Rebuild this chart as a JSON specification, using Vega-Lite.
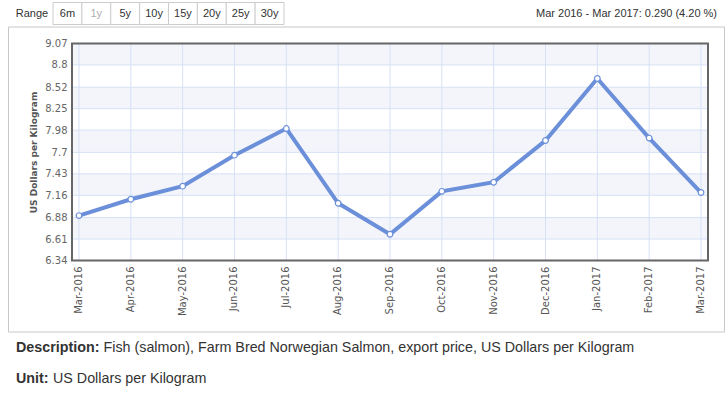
{
  "$schema": "https://vega.github.io/schema/vega-lite/v6.json",
  "padding": {"left": 7, "top": 1.5, "right": 0, "bottom": 0},
  "spacing": 0,
  "background": "white",
  "config": {"view": {"stroke": null}, "font": "Liberation Sans"},
  "datasets": {
    "buttons": [{"btn": "6m"}, {"btn": "1y"}, {"btn": "5y"}, {"btn": "10y"}, {"btn": "15y"}, {"btn": "20y"}, {"btn": "25y"}, {"btn": "30y"}],
    "series": [
      {"month": "Mar-2016", "value": 6.905},
      {"month": "Apr-2016", "value": 7.11},
      {"month": "May-2016", "value": 7.275},
      {"month": "Jun-2016", "value": 7.665},
      {"month": "Jul-2016", "value": 8.0},
      {"month": "Aug-2016", "value": 7.06},
      {"month": "Sep-2016", "value": 6.67},
      {"month": "Oct-2016", "value": 7.21},
      {"month": "Nov-2016", "value": 7.325},
      {"month": "Dec-2016", "value": 7.85},
      {"month": "Jan-2017", "value": 8.63},
      {"month": "Feb-2017", "value": 7.88},
      {"month": "Mar-2017", "value": 7.195}
    ],
    "bands": [{"lo": 8.8, "hi": 9.07}, {"lo": 8.25, "hi": 8.52}, {"lo": 7.7, "hi": 7.98}, {"lo": 7.16, "hi": 7.43}, {"lo": 6.61, "hi": 6.88}],
    "ticks": [{"v": 6.61}, {"v": 6.88}, {"v": 7.16}, {"v": 7.43}, {"v": 7.7}, {"v": 7.98}, {"v": 8.25}, {"v": 8.52}, {"v": 8.8}]
  },
  "vconcat": [
    {
      "width": 711,
      "height": 22,
      "layer": [
        {
          "data": {"name": "buttons"},
          "mark": {"type": "rect", "fill": "white", "stroke": "#cccccc", "strokeWidth": 1},
          "encoding": {
            "x": {"field": "btn", "type": "nominal", "sort": null, "scale": {"range": [45, 276], "paddingInner": 0, "paddingOuter": 0}, "axis": null}
          }
        },
        {
          "data": {"name": "buttons"},
          "mark": {"type": "text", "font": "Liberation Sans", "fontSize": 11, "baseline": "middle"},
          "encoding": {
            "x": {"field": "btn", "type": "nominal", "sort": null, "scale": {"range": [45, 276], "paddingInner": 0, "paddingOuter": 0}, "axis": null},
            "text": {"field": "btn"},
            "color": {"condition": {"test": "datum.btn === '1y'", "value": "#b0b0b0"}, "value": "#333333"}
          }
        },
        {
          "data": {"values": [{"label": "Range"}]},
          "mark": {"type": "text", "font": "Liberation Sans", "fontSize": 11, "baseline": "middle", "color": "#333333"},
          "encoding": {
            "x": {"field": "label", "type": "nominal", "scale": {"range": [8, 40]}, "axis": null},
            "text": {"field": "label"}
          }
        },
        {
          "data": {"values": [{"t": "Mar 2016 - Mar 2017: 0.290 (4.20 %)"}]},
          "mark": {"type": "text", "font": "Liberation Sans", "fontSize": 11, "align": "right", "baseline": "middle", "dx": -2, "color": "#333333"},
          "encoding": {"x": {"value": "width"}, "text": {"field": "t"}}
        }
      ],
      "resolve": {"scale": {"x": "independent"}}
    },
    {
      "width": 716,
      "height": 305,
      "view": {"stroke": "#c8c8c8", "strokeWidth": 1},
      "layer": [
        {
          "layer": [
            {
              "data": {"name": "bands"},
              "mark": {"type": "rect", "fill": "#f3f5fb"},
              "encoding": {
                "x": {"datum": 0, "type": "quantitative", "scale": {"domain": [0, 1], "range": [64, 700]}, "axis": null},
                "x2": {"datum": 1},
                "y": {"field": "lo", "type": "quantitative", "scale": {"domain": [6.34, 9.07], "range": [234, 17], "nice": false, "zero": false},
                  "axis": {"offset": -64, "values": [6.34, 6.61, 6.88, 7.16, 7.43, 7.7, 7.98, 8.25, 8.52, 8.8, 9.07], "tickCount": 20, "labelExpr": "format(datum.value, '.3~r')", "labelOverlap": false, "title": "US Dollars per Kilogram", "titleFont": "DejaVu Sans", "titleFontSize": 9, "titleFontWeight": "bold", "titleColor": "#555555", "titlePadding": 6, "labelFont": "DejaVu Sans", "labelFontSize": 10, "labelColor": "#666666", "labelPadding": 5, "ticks": false, "domain": false, "grid": false}},
                "y2": {"field": "hi"}
              }
            },
            {
              "data": {"name": "ticks"},
              "mark": {"type": "rule", "color": "#d6e1f6", "strokeWidth": 1},
              "encoding": {
                "x": {"datum": 0, "type": "quantitative"},
                "x2": {"datum": 1},
                "y": {"field": "v", "type": "quantitative"}
              }
            }
          ]
        },
        {
          "data": {"name": "series"},
          "layer": [
            {
              "mark": {"type": "rule", "color": "#d6e1f6", "strokeWidth": 1},
              "encoding": {
                "x": {"field": "month", "type": "ordinal", "sort": null, "scale": {"type": "point", "range": [64, 700], "padding": 0.135}, "axis": null},
                "y": {"datum": 6.34, "type": "quantitative"},
                "y2": {"datum": 9.07}
              }
            },
            {
              "mark": {"type": "line", "color": "#6b8fd8", "strokeWidth": 4, "strokeJoin": "miter"},
              "encoding": {
                "x": {"field": "month", "type": "ordinal", "sort": null},
                "y": {"field": "value", "type": "quantitative"}
              }
            },
            {
              "mark": {"type": "point", "filled": true, "fill": "white", "stroke": "#6b8fd8", "strokeWidth": 1.2, "size": 32, "opacity": 1},
              "encoding": {
                "x": {"field": "month", "type": "ordinal", "sort": null},
                "y": {"field": "value", "type": "quantitative"}
              }
            },
            {
              "mark": {"type": "text", "font": "DejaVu Sans", "fontSize": 10, "color": "#555555", "angle": 270, "align": "right", "baseline": "middle", "dx": -6},
              "encoding": {
                "x": {"field": "month", "type": "ordinal", "sort": null},
                "y": {"datum": 6.34, "type": "quantitative"},
                "text": {"field": "month"}
              }
            }
          ]
        },
        {
          "data": {"values": [{"frame": "plot"}]},
          "mark": {"type": "rect", "fill": null, "stroke": "#666666", "strokeWidth": 2},
          "encoding": {
            "x": {"datum": 0, "type": "quantitative", "scale": {"domain": [0, 1], "range": [64, 700]}, "axis": null},
            "x2": {"datum": 1},
            "y": {"datum": 6.34, "type": "quantitative"},
            "y2": {"datum": 9.07}
          }
        }
      ],
      "resolve": {"scale": {"x": "independent"}, "axis": {"x": "independent"}}
    },
    {
      "width": 711,
      "height": 60,
      "data": {"values": [
        {"row": "d", "label": "Description:", "text": "Fish (salmon), Farm Bred Norwegian Salmon, export price, US Dollars per Kilogram"},
        {"row": "u", "label": "Unit:", "text": "US Dollars per Kilogram"}
      ]},
      "encoding": {"y": {"field": "row", "type": "nominal", "sort": null, "scale": {"type": "point", "range": [15, 46], "padding": 0}, "axis": null}},
      "layer": [
        {
          "mark": {"type": "text", "font": "Liberation Sans", "fontSize": 14.3, "fontWeight": "bold", "align": "left", "baseline": "middle", "color": "#333333"},
          "encoding": {"x": {"value": 8}, "text": {"field": "label"}}
        },
        {
          "transform": [{"filter": "datum.row === 'd'"}],
          "mark": {"type": "text", "font": "Liberation Sans", "fontSize": 14.3, "align": "left", "baseline": "middle", "dx": 87.5, "color": "#333333"},
          "encoding": {"x": {"value": 8}, "text": {"field": "text"}}
        },
        {
          "transform": [{"filter": "datum.row === 'u'"}],
          "mark": {"type": "text", "font": "Liberation Sans", "fontSize": 14.3, "align": "left", "baseline": "middle", "dx": 37, "color": "#333333"},
          "encoding": {"x": {"value": 8}, "text": {"field": "text"}}
        }
      ]
    }
  ]
}
